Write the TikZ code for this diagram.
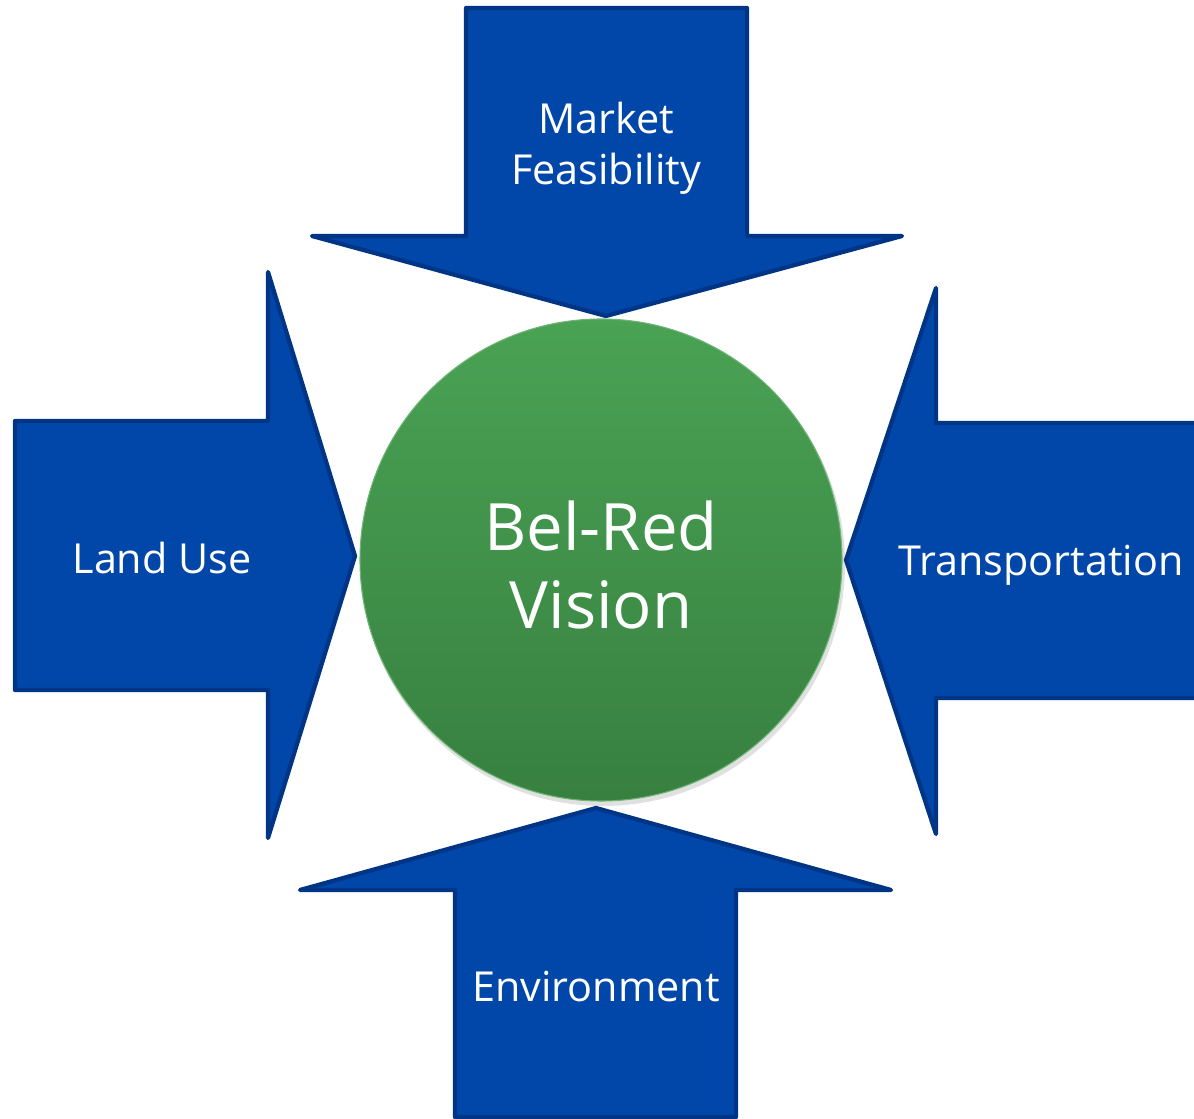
\documentclass[tikz,border=0pt]{standalone}
\usepackage{fontspec}
\setmainfont{Open Sans}
\definecolor{arrowfill}{HTML}{0047A9}
\definecolor{arrowline}{HTML}{003485}
\definecolor{greentop}{HTML}{4AA254}
\definecolor{greenbot}{HTML}{378040}
\tikzset{
  bigarrow/.style={fill=arrowfill, draw=arrowline, line width=3.2pt, line join=round},
  label/.style={text=white, font=\fontsize{31}{38}\selectfont, align=center},
}
\begin{document}
\begin{tikzpicture}[x=0.75pt,y=-0.75pt]
\useasboundingbox (0,0) rectangle (1194,1119);
\clip (0,0) rectangle (1194,1119);
% top arrow (pointing down)
\draw[bigarrow] (466,8) -- (747,8) -- (747,236) -- (902,236) -- (606,316)
  -- (312,236) -- (466,236) -- cycle;
% bottom arrow (pointing up)
\draw[bigarrow] (455,1117) -- (736,1117) -- (736,890) -- (891,890) -- (596,808)
  -- (300,890) -- (455,890) -- cycle;
% left arrow (pointing right)
\draw[bigarrow] (15,421) -- (268,421) -- (268,272) -- (355,556) -- (268,838)
  -- (268,690) -- (15,690) -- cycle;
% right arrow (pointing left)
\draw[bigarrow] (1200,423) -- (936,423) -- (936,288) -- (846,560) -- (936,834)
  -- (936,698) -- (1200,698) -- cycle;
% central circle with a soft shadow
\fill[black, opacity=0.12] (603,564) circle (242);
\shade[top color=greentop, bottom color=greenbot, draw=greentop!80!white, line width=0.8pt]
  (601,560) circle (241);
\node[label] (mkt) at (606,148) {Market\\Feasibility};
\node[label] (land) at (162,558) {Land Use};
\node[label] (trans) at (1041,565) {Transportation};
\node[label] (env) at (596,987) {Environment};
\node[text=white, font=\fontsize{49}{58}\selectfont, align=center] (vision) at (601,565) {Bel-Red\\Vision};
\end{tikzpicture}
\end{document}
